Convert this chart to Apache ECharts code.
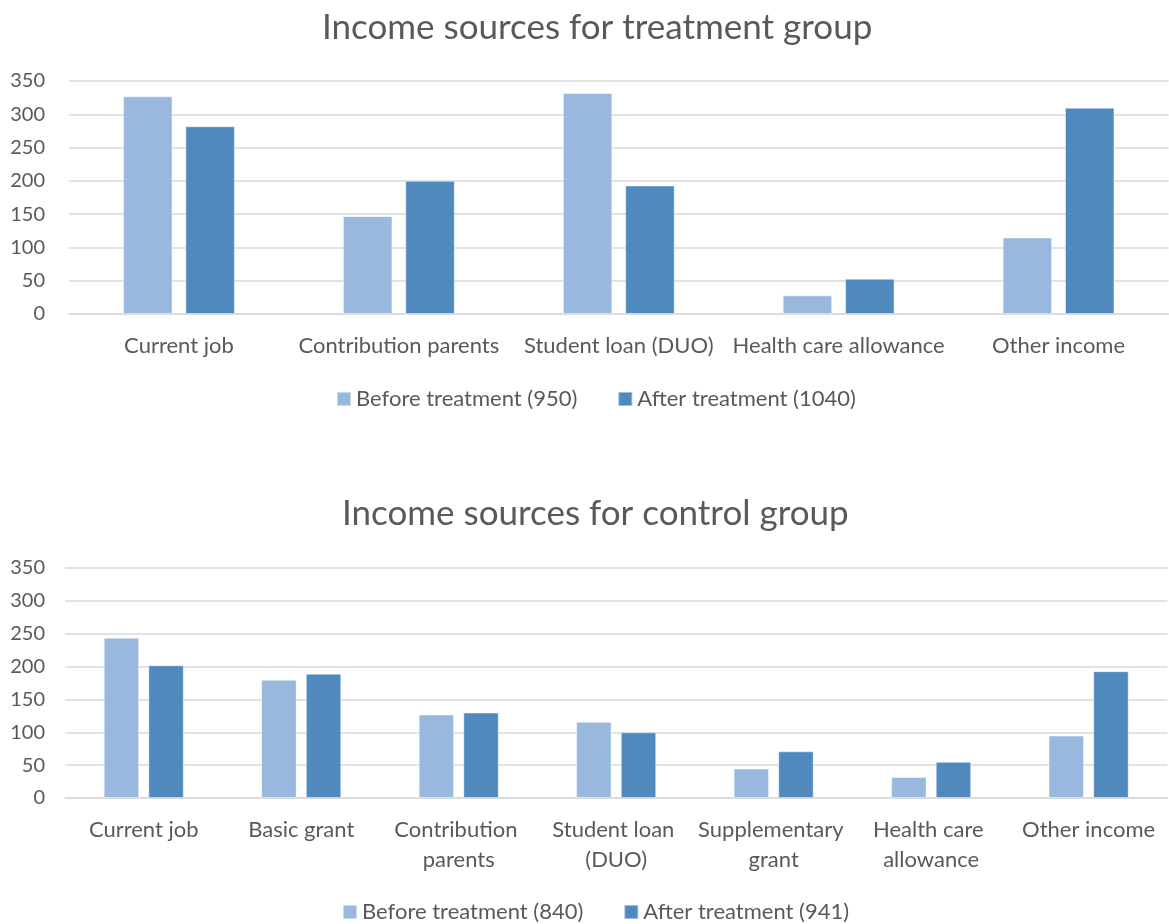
<!DOCTYPE html>
<html>
<head>
<meta charset="utf-8">
<script src="https://cdn.jsdelivr.net/npm/echarts@6/dist/echarts.min.js"></script>
<style>
  html, body { margin: 0; padding: 0; background: #ffffff; }
  #chart { width: 1169px; height: 924px; }
</style>
</head>
<body>
<div id="chart"></div>
<script>
// Treatment group
const treatCategories = ['Current job', 'Contribution parents', 'Student loan (DUO)', 'Health care allowance', 'Other income'];
const treatBeforeName = 'Before treatment (950)';
const treatAfterName = 'After treatment (1040)';
const treatBefore = [327, 147, 332, 28, 115];
const treatAfter = [282, 200, 193, 53, 310];

// Control group
const ctrlCategories = ['Current job', 'Basic grant', 'Contribution parents', 'Student loan (DUO)', 'Supplementary grant', 'Health care allowance', 'Other income'];
const ctrlBeforeName = 'Before treatment (840)';
const ctrlAfterName = 'After treatment (941)';
const ctrlBefore = [244, 180, 127, 116, 45, 32, 95];
const ctrlAfter = [202, 189, 130, 100, 71, 55, 193];

const yTicks = [0, 50, 100, 150, 200, 250, 300, 350];

const FONT = 'Lato, "Open Sans", sans-serif';
const TEXT = '#595959';
const GRID_LINE = '#d9d9d9';
const C_BEFORE = '#98b8de';
const C_AFTER = '#4f89bd';

function xAxis(gridIndex, data, labelWidth) {
  return {
    type: 'category', gridIndex, data,
    axisTick: { show: false },
    axisLine: { lineStyle: { color: GRID_LINE, width: 1.5 } },
    axisLabel: {
      color: TEXT, fontFamily: FONT, fontSize: 22, margin: 17,
      width: labelWidth, overflow: 'break', lineHeight: 30, interval: 0
    }
  };
}
function yAxis(gridIndex, margin) {
  return {
    type: 'value', gridIndex,
    min: yTicks[0], max: yTicks[yTicks.length - 1], interval: 50,
    axisLine: { show: false }, axisTick: { show: false },
    splitLine: { lineStyle: { color: GRID_LINE, width: 1.5 } },
    axisLabel: { color: TEXT, fontFamily: FONT, fontSize: 20, margin }
  };
}
function bar(name, data, color, idx) {
  return {
    type: 'bar', name, data, xAxisIndex: idx, yAxisIndex: idx,
    barWidth: '22.5%', barGap: '26%',
    itemStyle: { color, borderColor: 'rgba(255,255,255,0.45)', borderWidth: 1 }
  };
}
function legend(names, left, top) {
  return {
    data: names, left, top, padding: 0,
    itemWidth: 14, itemHeight: 14, itemGap: 40, icon: 'rect',
    textStyle: { color: TEXT, fontFamily: FONT, fontSize: 22 }
  };
}
function title(text, left, top) {
  return {
    text, left, top, padding: 0,
    textStyle: { color: TEXT, fontFamily: FONT, fontSize: 35, fontWeight: 'normal' }
  };
}

const chart = echarts.init(document.getElementById('chart'), null, { renderer: 'canvas' });
chart.setOption({
  animation: false,
  backgroundColor: '#ffffff',
  title: [
    title('Income sources for treatment group', 322, 10),
    title('Income sources for control group', 342, 496)
  ],
  legend: [
    legend([treatBeforeName, treatAfterName], 336, 388),
    legend([ctrlBeforeName, ctrlAfterName], 342, 901)
  ],
  grid: [
    { left: 69, right: 0, top: 81, height: 233 },
    { left: 65, right: 0, top: 568, height: 230 }
  ],
  xAxis: [xAxis(0, treatCategories, 215), xAxis(1, ctrlCategories, 155)],
  yAxis: [yAxis(0, 24), yAxis(1, 20)],
  series: [
    bar(treatBeforeName, treatBefore, C_BEFORE, 0),
    bar(treatAfterName, treatAfter, C_AFTER, 0),
    bar(ctrlBeforeName, ctrlBefore, C_BEFORE, 1),
    bar(ctrlAfterName, ctrlAfter, C_AFTER, 1)
  ]
});
</script>
</body>
</html>
